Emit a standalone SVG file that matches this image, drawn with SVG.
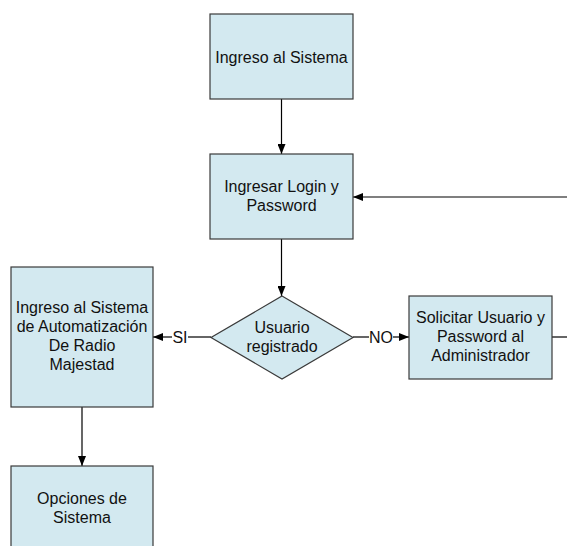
<svg xmlns="http://www.w3.org/2000/svg" width="567" height="546" viewBox="0 0 567 546">
<style>
.box{fill:#d3e9f0;stroke:#3a3a3a;stroke-width:1.2}
.t{font-family:"Liberation Sans",Arial,sans-serif;font-size:16px;fill:#111;text-anchor:middle}
.c{fill:none;stroke:#000;stroke-width:1.2}
</style>
<defs>
<marker id="ah" markerWidth="10" markerHeight="8" refX="10" refY="4" orient="auto" markerUnits="userSpaceOnUse">
<path d="M0,0 L10,4 L0,8 Z" fill="#000"/>
</marker>
</defs>
<rect width="567" height="546" fill="#fff"/>
<g id="connectors">
<line class="c" x1="281.5" y1="99" x2="281.5" y2="154" marker-end="url(#ah)"/>
<line class="c" x1="567" y1="197" x2="353" y2="197" marker-end="url(#ah)"/>
<line class="c" x1="281.5" y1="239" x2="281.5" y2="296" marker-end="url(#ah)"/>
<line class="c" x1="353" y1="337" x2="369" y2="337"/>
<line class="c" x1="393" y1="337" x2="409" y2="337" marker-end="url(#ah)"/>
<text class="t" x="381" y="342.5">NO</text>
<line class="c" x1="211" y1="337" x2="188" y2="337"/>
<line class="c" x1="172" y1="337" x2="153" y2="337" marker-end="url(#ah)"/>
<text class="t" x="180" y="342.5">SI</text>
<line class="c" x1="552" y1="337" x2="567" y2="337"/>
<line class="c" x1="82" y1="407" x2="82" y2="466" marker-end="url(#ah)"/>
</g>
<g id="ingreso">
<rect class="box" x="210" y="14" width="143" height="85"/>
<text class="t" x="281.5" y="63">Ingreso al Sistema</text>
</g>
<g id="login">
<rect class="box" x="210" y="154" width="143" height="85"/>
<text class="t" x="281.5" y="192">Ingresar Login y</text>
<text class="t" x="281.5" y="211">Password</text>
</g>
<g id="decision">
<polygon class="box" points="282,296 353,337.5 282,379 211,337.5"/>
<text class="t" x="282" y="333">Usuario</text>
<text class="t" x="282" y="352">registrado</text>
</g>
<g id="solicitar">
<rect class="box" x="409" y="296" width="143" height="83"/>
<text class="t" x="480.5" y="323">Solicitar Usuario y</text>
<text class="t" x="480.5" y="342">Password al</text>
<text class="t" x="480.5" y="361">Administrador</text>
</g>
<g id="automatizacion">
<rect class="box" x="11" y="267" width="142" height="140"/>
<text class="t" x="82" y="313">Ingreso al Sistema</text>
<text class="t" x="82" y="332">de Automatización</text>
<text class="t" x="82" y="351">De Radio</text>
<text class="t" x="82" y="370">Majestad</text>
</g>
<g id="opciones">
<rect class="box" x="11" y="466" width="142" height="85"/>
<text class="t" x="82" y="503.5">Opciones de</text>
<text class="t" x="82" y="522.5">Sistema</text>
</g>
</svg>
